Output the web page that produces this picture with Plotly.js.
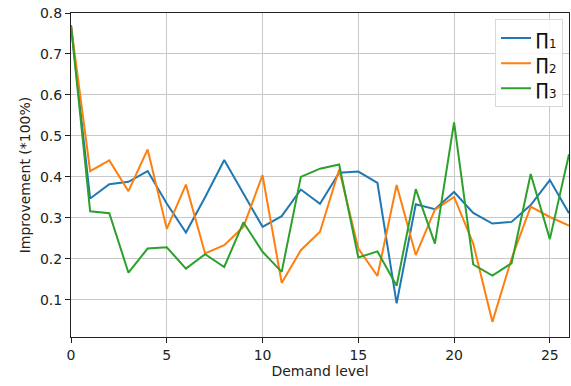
<!DOCTYPE html>
<html>
<head>
<meta charset="utf-8">
<script src="https://cdn.plot.ly/plotly-3.0.1.min.js"></script>
<style>html,body{margin:0;padding:0;background:#fff;}#chart{width:571px;height:386px;}</style>
</head>
<body>
<div id="chart"></div>
<script>
const demandLevels = [0,1,2,3,4,5,6,7,8,9,10,11,12,13,14,15,16,17,18,19,20,21,22,23,24,25,26];
const pi1 = [0.77,0.347,0.382,0.388,0.414,0.335,0.264,0.35,0.441,0.36,0.278,0.304,0.369,0.334,0.41,0.413,0.385,0.091,0.333,0.321,0.363,0.312,0.286,0.29,0.331,0.392,0.311];
const pi2 = [0.77,0.414,0.44,0.365,0.467,0.273,0.381,0.213,0.233,0.278,0.404,0.141,0.221,0.266,0.418,0.225,0.158,0.38,0.209,0.32,0.351,0.237,0.046,0.2,0.327,0.302,0.281];
const pi3 = [0.77,0.316,0.311,0.166,0.225,0.228,0.176,0.211,0.18,0.289,0.217,0.168,0.4,0.42,0.43,0.203,0.218,0.134,0.37,0.237,0.533,0.186,0.159,0.189,0.407,0.248,0.455];
const seriesNames = ['∏<sub>1</sub>','∏<sub>2</sub>','∏<sub>3</sub>'];
const seriesColors = ['#1f77b4','#ff7f0e','#2ca02c'];
const xTicks = [0,5,10,15,20,25];
const yTicks = [0.1,0.2,0.3,0.4,0.5,0.6,0.7,0.8];

const data = [pi1,pi2,pi3].map((ys,i)=>({
  x: demandLevels, y: ys, type:'scatter', mode:'lines', name: seriesNames[i],
  line:{color:seriesColors[i], width:2}
}));

const axisCommon = {
  showline:true, mirror:true, linecolor:'#222', linewidth:1,
  ticks:'outside', ticklen:5, tickcolor:'#222',
  showgrid:true, gridcolor:'#c8c8c8', gridwidth:1, zeroline:false,
  tickfont:{family:'DejaVu Sans', size:14, color:'#222'}
};

const layout = {
  width:571, height:386,
  margin:{l:71, r:2, t:13, b:49},
  paper_bgcolor:'#fff', plot_bgcolor:'#fff',
  font:{family:'DejaVu Sans', color:'#222'},
  xaxis: Object.assign({}, axisCommon, {
    range:[0,26], tickvals:xTicks, ticktext:xTicks.map(String),
    title:{text:'Demand level', font:{size:14, family:'DejaVu Sans'}, standoff:3}
  }),
  yaxis: Object.assign({}, axisCommon, {
    range:[0.009,0.8], tickvals:yTicks, ticktext:yTicks.map(v=>v.toFixed(1)),
    title:{text:'Improvement (*100%)', font:{size:14, family:'DejaVu Sans'}, standoff:6}
  }),
  showlegend:true,
  legend:{x:0.988, xanchor:'right', y:0.98, yanchor:'top',
    bgcolor:'rgba(255,255,255,0.85)', bordercolor:'#d8d8d8', borderwidth:1,
    font:{family:'DejaVu Sans', size:17, color:'#111'}, tracegroupgap:0}
};

Plotly.newPlot('chart', data, layout, {displayModeBar:false, staticPlot:true});
</script>
</body>
</html>
